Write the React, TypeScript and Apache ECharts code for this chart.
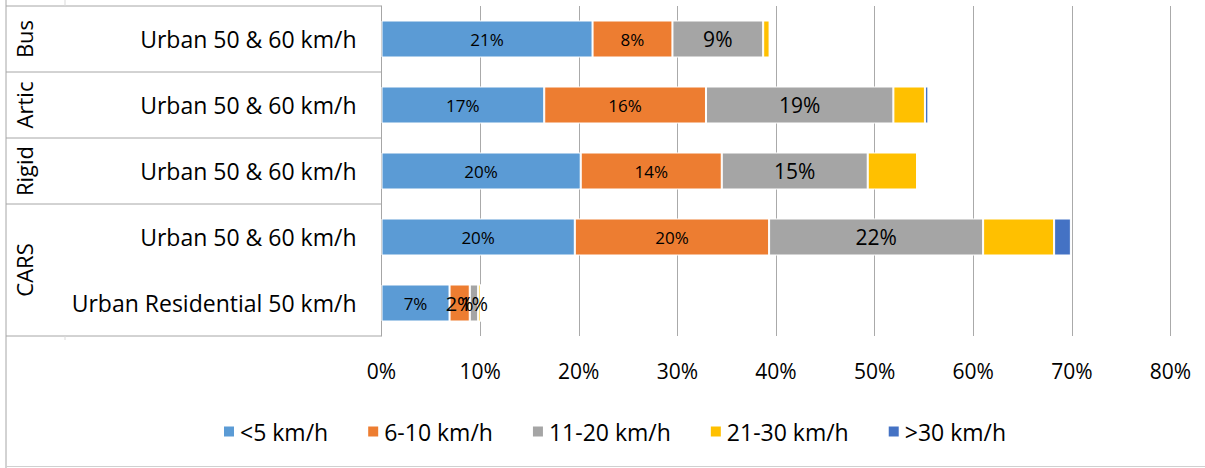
import React, { useEffect, useRef } from "react";
import * as echarts from "echarts";

// ---- data ----
const groups = ["Bus", "Artic", "Rigid", "CARS"];
const groupSpans = [1, 1, 1, 2];
const categories = [
  "Urban 50 & 60 km/h",
  "Urban 50 & 60 km/h",
  "Urban 50 & 60 km/h",
  "Urban 50 & 60 km/h",
  "Urban Residential 50 km/h",
];
const seriesNames = ["<5 km/h", "6-10 km/h", "11-20 km/h", "21-30 km/h", ">30 km/h"];
const under5 = [21.4, 16.5, 20.2, 19.6, 6.9];
const from6to10 = [8.1, 16.4, 14.3, 19.7, 2.05];
const from11to20 = [9.2, 19.0, 14.8, 21.7, 0.85];
const from21to30 = [0.65, 3.2, 5.0, 7.2, 0.25];
const over30 = [0, 0.35, 0.15, 1.7, 0];
const xMin = 0;
const xMax = 80;
const xStep = 10;

const colors = ["#5B9BD5", "#ED7D31", "#A5A5A5", "#FFC000", "#4472C4"];
const seriesValues = [under5, from6to10, from11to20, from21to30, over30];
const labelSizes = [17, 17, 21, 0, 0];

const FONT = "'Open Sans', 'Noto Sans', sans-serif";
const W = 1205;
const H = 468;
const GRID_LEFT = 381.5;
const GRID_RIGHT = 34.5;
const GRID_TOP = 6;
const ROW_H = 66;
const GRID_H = ROW_H * categories.length;
const TABLE_LEFT = 6;
const LINE_COLOR = "#a6a6a6";

export default function App() {
  const ref = useRef<HTMLDivElement>(null);

  useEffect(() => {
    if (!ref.current) return;
    const chart = echarts.init(ref.current, undefined, { renderer: "svg" });

    const graphics: any[] = [];
    graphics.push({
      type: "line",
      shape: { x1: TABLE_LEFT, y1: 0, x2: TABLE_LEFT, y2: H },
      style: { stroke: LINE_COLOR, lineWidth: 1 },
      silent: true,
    });
    graphics.push({
      type: "line",
      shape: { x1: TABLE_LEFT, y1: 466.5, x2: W, y2: 466.5 },
      style: { stroke: "#d0d0d0", lineWidth: 1 },
      silent: true,
    });
    let row = 0;
    const bounds: number[] = [0];
    groups.forEach((g, i) => {
      const y0 = GRID_TOP + row * ROW_H;
      const y1 = y0 + groupSpans[i] * ROW_H;
      graphics.push({
        type: "text",
        x: 24,
        y: (y0 + y1) / 2,
        rotation: Math.PI / 2,
        style: {
          text: g,
          fontSize: 22,
          fontFamily: FONT,
          fill: "#000",
          align: "center",
          verticalAlign: "middle",
        },
        silent: true,
      });
      row += groupSpans[i];
      bounds.push(row);
    });
    bounds.forEach((r) => {
      const y = GRID_TOP + r * ROW_H;
      graphics.push({
        type: "line",
        shape: { x1: TABLE_LEFT, y1: y, x2: GRID_LEFT, y2: y },
        style: { stroke: LINE_COLOR, lineWidth: 1 },
        silent: true,
      });
    });
    graphics.push({
      type: "line",
      shape: { x1: 65, y1: 0, x2: 65, y2: GRID_TOP },
      style: { stroke: "#d9d9d9", lineWidth: 1 },
      silent: true,
    });
    graphics.push({
      type: "line",
      shape: { x1: 65, y1: GRID_TOP + GRID_H, x2: 65, y2: GRID_TOP + GRID_H + 4 },
      style: { stroke: "#d9d9d9", lineWidth: 1 },
      silent: true,
    });

    const series = seriesNames.map((name, si) => ({
      name,
      type: "bar",
      stack: "total",
      barWidth: 37,
      itemStyle: { color: colors[si], borderColor: "#fff", borderWidth: 1 },
      label: {
        show: labelSizes[si] > 0,
        position: "inside",
        fontSize: labelSizes[si] || 12,
        fontFamily: FONT,
        color: "#000",
        formatter: (p: any) => Math.round(p.value) + "%",
      },
      data: seriesValues[si].map((v) =>
        (si === 2 && v < 2) || (si === 1 && v < 3)
          ? { value: v, label: { fontSize: 20 } }
          : v
      ),
    }));

    chart.setOption({
      animation: false,
      textStyle: { fontFamily: FONT },
      grid: {
        left: GRID_LEFT,
        right: GRID_RIGHT,
        top: GRID_TOP,
        height: GRID_H,
        containLabel: false,
      },
      legend: {
        data: seriesNames,
        left: 217,
        top: 415,
        icon: "rect",
        itemWidth: 12,
        itemHeight: 12,
        itemGap: 38,
        textStyle: { fontSize: 23, color: "#000", fontFamily: FONT },
      },
      xAxis: {
        type: "value",
        min: xMin,
        max: xMax,
        interval: xStep,
        axisLine: { show: false },
        axisTick: { show: false },
        splitLine: { show: true, lineStyle: { color: "#aaaaaa", width: 1 } },
        axisLabel: {
          formatter: "{value}%",
          fontSize: 21,
          color: "#000",
          fontFamily: FONT,
          margin: 24,
        },
      },
      yAxis: {
        type: "category",
        inverse: true,
        data: categories,
        axisLine: { show: true, lineStyle: { color: LINE_COLOR } },
        axisTick: { show: false },
        splitLine: { show: false },
        axisLabel: {
          fontSize: 23,
          color: "#000",
          fontFamily: FONT,
          margin: 25,
          interval: 0,
        },
      },
      graphic: graphics,
      series,
    });

    return () => chart.dispose();
  }, []);

  return (
    <div
      ref={ref}
      style={{ position: "absolute", left: 0, top: 0, width: W, height: H, background: "#fff" }}
    />
  );
}
